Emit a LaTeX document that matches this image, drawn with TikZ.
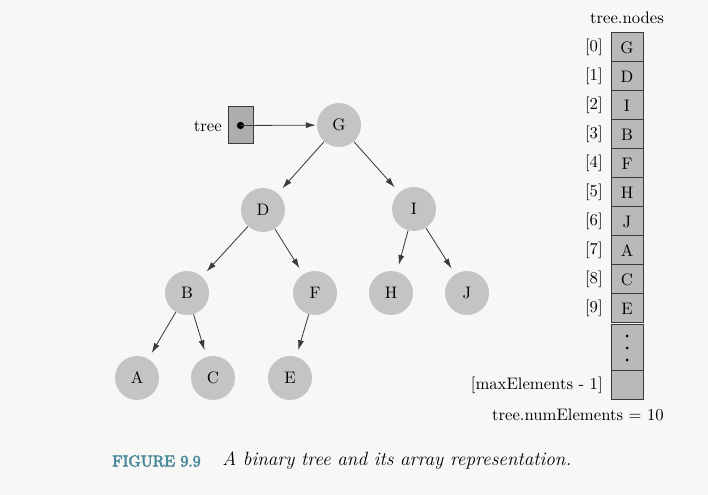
\documentclass[tikz,border=0pt]{standalone}
\usetikzlibrary{arrows.meta}
\definecolor{paper}{HTML}{F7F7F6}
\definecolor{nodefill}{HTML}{C4C4C4}
\definecolor{cellfill}{HTML}{B9B9B9}
\definecolor{boxfill}{HTML}{ADADAD}
\definecolor{linecol}{HTML}{3A3A3A}
\definecolor{capblue}{HTML}{4A8A9C}
\newcommand{\semibold}[1]{\special{pdf:literal direct 2 Tr 0.35 w}#1\special{pdf:literal direct 0 Tr}}
\begin{document}
\begin{tikzpicture}[x=0.6pt,y=-0.6pt,
  tnode/.style={circle,fill=nodefill,minimum size=26.4pt,inner sep=0pt,font=\normalsize},
  edge/.style={draw=linecol,line width=0.5pt,-{Latex[length=6pt,width=3.6pt]},shorten >=4pt},
  cell/.style={draw=linecol,line width=0.6pt,fill=cellfill,minimum width=19.2pt,minimum height=17.4pt,inner sep=0pt,font=\normalsize},
  idx/.style={anchor=east,inner sep=0pt,font=\normalsize},
  lbl/.style={inner sep=0pt,font=\normalsize}]
\fill[paper] (0,0) rectangle (708,495);
\useasboundingbox (0,0) rectangle (708,495);

% tree pointer box
\node[draw=linecol,line width=0.6pt,fill=boxfill,minimum width=15pt,minimum height=22.2pt,inner sep=0pt] (box) at (240.5,125.5) {};
\node[lbl,anchor=east] (treelbl) at (222,126) {tree};
\fill[black] (box.center) circle (2.2pt);
\coordinate (dot) at (box.center);

% tree nodes
\node[tnode] (G) at (339,125) {G};
\node[tnode] (D) at (263,210) {D};
\node[tnode] (I) at (414,209) {I};
\node[tnode] (B) at (187,293) {B};
\node[tnode] (F) at (315,293) {F};
\node[tnode] (H) at (391,293) {H};
\node[tnode] (J) at (467,293) {J};
\node[tnode] (A) at (137,378) {A};
\node[tnode] (C) at (213,378) {C};
\node[tnode] (E) at (290,378) {E};

\draw[edge,shorten >=0.5pt] (dot) -- (G);
\draw[edge] (G) -- (D);
\draw[edge] (G) -- (I);
\draw[edge] (D) -- (B);
\draw[edge] (D) -- (F);
\draw[edge] (I) -- (H);
\draw[edge] (I) -- (J);
\draw[edge] (B) -- (A);
\draw[edge] (B) -- (C);
\draw[edge] (F) -- (E);

% array
\node[lbl] (title) at (627,18) {tree.nodes};
\node[cell] (c0) at (627,47.5) {G};
\node[cell] (c1) at (627,76.5) {D};
\node[cell] (c2) at (627,105.5) {I};
\node[cell] (c3) at (627,134.5) {B};
\node[cell] (c4) at (627,163.5) {F};
\node[cell] (c5) at (627,192.5) {H};
\node[cell] (c6) at (627,221.5) {J};
\node[cell] (c7) at (627,250.5) {A};
\node[cell] (c8) at (627,279.5) {C};
\node[cell] (c9) at (627,308.5) {E};
\node[cell,minimum height=27.6pt] (cd) at (627,348) {};
\node[cell] (cm) at (627,385.5) {};
\foreach \yy in {336,348,360} \fill[black] (627,\yy) circle (0.9pt);

\node[idx] (i0) at (603,47.5) {[0]};
\node[idx] (i1) at (603,76.5) {[1]};
\node[idx] (i2) at (603,105.5) {[2]};
\node[idx] (i3) at (603,134.5) {[3]};
\node[idx] (i4) at (603,163.5) {[4]};
\node[idx] (i5) at (603,192.5) {[5]};
\node[idx] (i6) at (603,221.5) {[6]};
\node[idx] (i7) at (603,250.5) {[7]};
\node[idx] (i8) at (603,279.5) {[8]};
\node[idx] (i9) at (603,308.5) {[9]};
\node[idx] (im) at (603,385.5) {[maxElements - 1]};

\node[lbl] (num) at (578,415) {tree.numElements = 10};

% caption
\node[inner sep=0pt,anchor=west,font=\fontsize{9.5}{11}\selectfont,text=capblue] (fig) at (112,461) {\semibold{FIGURE 9.9}};
\node[inner sep=0pt,anchor=west,font=\fontsize{11.5}{13}\selectfont\itshape] (cap) at (222,461) {A binary tree and its array representation.};
\end{tikzpicture}
\end{document}
